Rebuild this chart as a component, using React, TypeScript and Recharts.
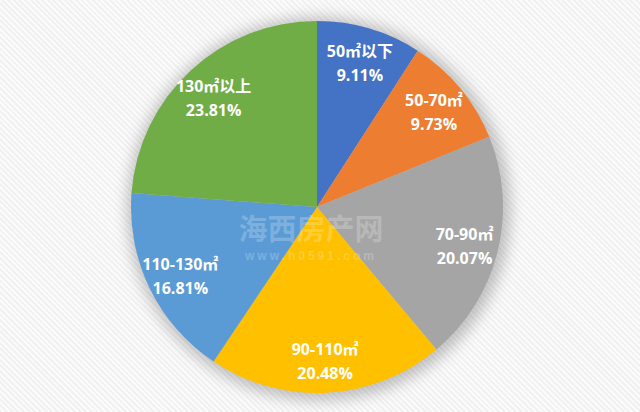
import { PieChart, Pie, Cell } from "recharts"

const categories = ["50㎡以下", "50-70㎡", "70-90㎡", "90-110㎡", "110-130㎡", "130㎡以上"]
const shares = [9.11, 9.73, 20.07, 20.48, 16.81, 23.81]
const colors = ["#4472C4", "#ED7D31", "#A5A5A5", "#FFC000", "#5B9BD5", "#70AD47"]

const data = categories.map((name, i) => ({ name, value: shares[i] }))
const RAD = Math.PI / 180

// white two-line label inside each slice
const renderLabel = (props: any) => {
  const { cx, cy, midAngle, payload } = props
  const r = 152
  const x = cx + r * Math.cos(-midAngle * RAD)
  const y = cy + r * Math.sin(-midAngle * RAD)
  return (
    <text
      x={x}
      y={y}
      fill="#fff"
      textAnchor="middle"
      fontSize={16}
      fontWeight="bold"
      fontFamily="'Open Sans', 'Noto Sans CJK SC', sans-serif"
    >
      <tspan x={x} dy={-4}>{payload.name}</tspan>
      <tspan x={x} dy={24}>{payload.value.toFixed(2)}%</tspan>
    </text>
  )
}

export default function App() {
  return (
    <div
      style={{
        position: "fixed",
        left: 0,
        top: 0,
        width: 640,
        height: 412,
        background: "repeating-linear-gradient(45deg, #f1f1f1 0px, #f1f1f1 2px, #fbfbfb 2px, #fbfbfb 4px)",
        overflow: "hidden",
      }}
    >
      <PieChart width={640} height={412} margin={{ top: 0, right: 0, bottom: 0, left: 0 }}>
        <Pie
          data={[{ name: "shadow", value: 1 }]}
          dataKey="value"
          cx={319}
          cy={209}
          outerRadius={192}
          stroke="none"
          isAnimationActive={false}
        >
          <Cell fill="rgba(0,0,0,0.22)" style={{ filter: "blur(7px)" }} />
        </Pie>
        <Pie
          data={data}
          dataKey="value"
          cx={317}
          cy={207}
          outerRadius={186}
          startAngle={90}
          endAngle={-270}
          stroke="none"
          label={renderLabel}
          labelLine={false}
          isAnimationActive={false}
        >
          {data.map((d, i) => (
            <Cell key={d.name} fill={colors[i]} />
          ))}
        </Pie>
      </PieChart>
      <div
        style={{
          position: "absolute",
          left: 0,
          top: 213,
          width: 622,
          textAlign: "center",
          color: "rgba(255,255,255,0.22)",
          fontFamily: "'Noto Sans CJK SC', sans-serif",
          fontWeight: "bold",
          pointerEvents: "none",
          lineHeight: 1,
        }}
      >
        <div style={{ fontSize: 29 }}>海西房产网</div>
        <div style={{ fontSize: 12, letterSpacing: 3, marginTop: 8, fontFamily: "Arial, 'Liberation Sans', sans-serif" }}>
          www.h0591.com
        </div>
      </div>
    </div>
  )
}
